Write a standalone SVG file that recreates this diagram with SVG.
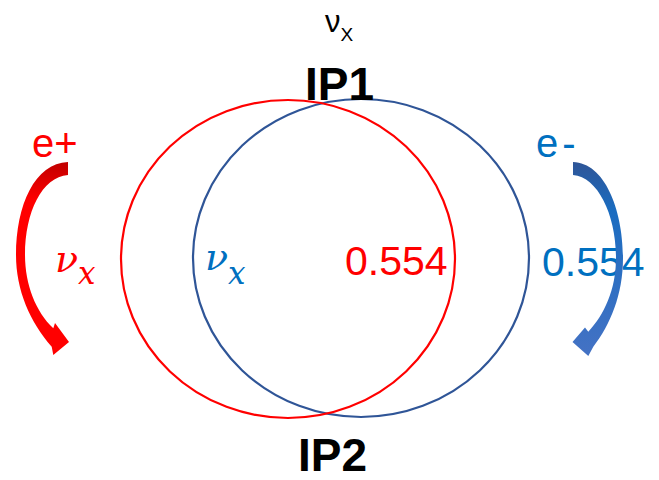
<svg xmlns="http://www.w3.org/2000/svg" width="659" height="480" viewBox="0 0 659 480">
  <defs>
    <style>
      .ring { fill: none; stroke-width: 2.2; }
      .lbl { font-family: "Liberation Sans", Arial, sans-serif; }
      .ip { font-family: "Liberation Sans", Arial, sans-serif; font-weight: bold; font-size: 46px; fill: #000; }
      .num { font-family: "Liberation Sans", Arial, sans-serif; font-size: 41px; }
      .math { font-family: "DejaVu Serif", "Liberation Serif", serif; font-style: italic; }
      .red { fill: #ff0000; }
      .blue { fill: #0070c0; }
    </style>
    <linearGradient id="gRed" x1="0" y1="162" x2="0" y2="355" gradientUnits="userSpaceOnUse">
      <stop offset="0" stop-color="#c00000"/>
      <stop offset="0.2" stop-color="#ff0000"/>
      <stop offset="1" stop-color="#ff0000"/>
    </linearGradient>
    <linearGradient id="gBlue" x1="0" y1="162" x2="0" y2="355" gradientUnits="userSpaceOnUse">
      <stop offset="0" stop-color="#2f5597"/>
      <stop offset="0.25" stop-color="#1a6cc0"/>
      <stop offset="1" stop-color="#4472c4"/>
    </linearGradient>
  </defs>

  <g id="top-label">
    <text class="lbl" x="325" y="32" font-size="31" fill="#000">ν<tspan font-size="19" dy="9">X</tspan></text>
  </g>

  <g id="ip-blue">
    <ellipse class="ring" cx="361" cy="258" rx="168" ry="159" stroke="#2f5597"/>
    <text class="math blue" x="205" y="270" font-size="38">ν<tspan font-size="31" dy="14">x</tspan></text>
  </g>

  <g id="ip-red">
    <ellipse class="ring" cx="288" cy="259" rx="167" ry="159" stroke="#ff0000"/>
    <text class="num red" x="345" y="275">0.554</text>
  </g>

  <g id="ip1">
    <text class="ip" x="305" y="100">IP1</text>
  </g>
  <g id="ip2">
    <text class="ip" x="298" y="471">IP2</text>
  </g>

  <g id="positron">
    <text class="lbl red" x="32" y="157" font-size="40">e+</text>
    <text class="math red" x="55" y="272" font-size="38">ν<tspan font-size="31" dy="12">x</tspan></text>
  </g>

  <g id="electron">
    <text class="lbl blue" x="536" y="157" font-size="40" letter-spacing="4">e-</text>
    <text class="num blue" x="542" y="276" font-size="42">0.554</text>
  </g>

  <g id="connectors">
    <path d="M68,162 C35,163 16,205 16,255 C16,290 30,322 51.7,346.7 L53.3,355 L69,342 L55,323 L53.3,328.3 C36,312 25,285 25,255 C25,212 42,177 68,175 Z" fill="url(#gRed)"/>
    <path d="M573,162 C605,163 623,210 623,258 C623,295 610,325 593.3,346.7 L588.3,356 L572.5,342 L585,327.5 L588.3,331.7 C604,315 616,290 616,258 C616,215 598,177 573,175 Z" fill="url(#gBlue)"/>
  </g>
</svg>
